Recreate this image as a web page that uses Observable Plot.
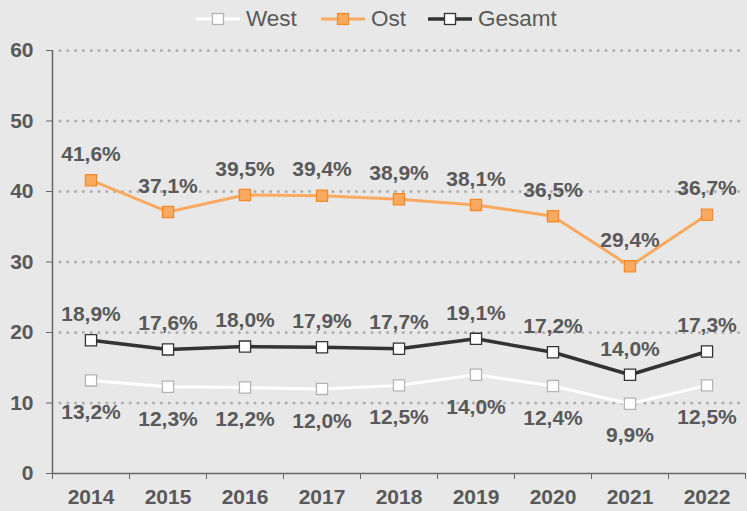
<!DOCTYPE html>
<html><head><meta charset="utf-8">
<script src="https://cdn.jsdelivr.net/npm/d3@7"></script>
<script src="https://cdn.jsdelivr.net/npm/@observablehq/plot@0.6"></script>
<style>
html,body{margin:0;padding:0;background:#e8e8e8;width:747px;height:511px;overflow:hidden;font-family:"Liberation Sans",Arial,sans-serif;}
#legend{position:relative;height:38px;}
.item{position:absolute;top:6px;display:flex;align-items:center;color:#595959;font-size:22.5px;}
.item svg{margin-right:6px;}
</style></head>
<body>
<div id="legend"></div>
<div id="chart"></div>
<script>
const years = [2014, 2015, 2016, 2017, 2018, 2019, 2020, 2021, 2022];
const west = [13.2, 12.3, 12.2, 12.0, 12.5, 14.0, 12.4, 9.9, 12.5];
const ost = [41.6, 37.1, 39.5, 39.4, 38.9, 38.1, 36.5, 29.4, 36.7];
const gesamt = [18.9, 17.6, 18.0, 17.9, 17.7, 19.1, 17.2, 14.0, 17.3];
const yTicks = [0, 10, 20, 30, 40, 50, 60];
const gridTicks = [10, 20, 30, 40, 50, 60];
const seriesNames = ["West", "Ost", "Gesamt"];

const styles = {
  West: {line: "#ffffff", fill: "#ffffff", stroke: "#b4b4b4", width: 3},
  Ost: {line: "#f9aa60", fill: "#f9aa60", stroke: "#f58a2a", width: 3},
  Gesamt: {line: "#333333", fill: "#ffffff", stroke: "#333333", width: 3.5}
};

// legend
const legendLeft = {West: 196, Ost: 321, Gesamt: 428};
const legend = document.getElementById("legend");
for (const name of seriesNames) {
  const s = styles[name];
  const div = document.createElement("div");
  div.className = "item";
  div.style.left = legendLeft[name] + "px";
  div.innerHTML = `<svg width="44" height="16"><line x1="0" x2="44" y1="8" y2="8" stroke="${s.line}" stroke-width="${s.width}"/><rect x="16.5" y="2.5" width="11" height="11" fill="${s.fill}" stroke="${s.stroke}" stroke-width="1.3"/></svg><span>${name}</span>`;
  legend.appendChild(div);
}

const fmt = v => v.toFixed(1).replace(".", ",") + "%";
const table = (name, vals) => years.map((y, i) => ({year: y, value: vals[i], series: name}));
const W = table("West", west), O = table("Ost", ost), G = table("Gesamt", gesamt);

const boundaries = d3.range(years.length + 1).map(i => years[0] - 0.5 + i);

const marks = [];
marks.push(Plot.ruleY(gridTicks, {stroke: "#b0b0b0", strokeWidth: 3.2, strokeDasharray: "0 7.8", strokeLinecap: "round", insetLeft: 8}));
marks.push(Plot.ruleX([boundaries[0]], {stroke: "#666", strokeWidth: 1.5}));
marks.push(Plot.ruleY([0], {stroke: "#666", strokeWidth: 1.5}));
marks.push(Plot.axisY({ticks: yTicks, label: null, tickSize: 6, tickPadding: 13, tickFormat: d => String(d), fontSize: 21, fontWeight: "bold", fill: "#595959", stroke: "#666"}));
marks.push(Plot.axisX({ticks: boundaries, label: null, tickSize: 6, tickFormat: () => "", stroke: "#666"}));
marks.push(Plot.axisX({ticks: years, label: null, tickSize: 0, tickPadding: 16, tickFormat: d => String(d), fontSize: 21, fontWeight: "bold", fill: "#595959"}));
for (const [name, data] of [["West", W], ["Ost", O], ["Gesamt", G]]) {
  const s = styles[name];
  marks.push(Plot.line(data, {x: "year", y: "value", stroke: s.line, strokeWidth: s.width}));
  marks.push(Plot.dot(data, {x: "year", y: "value", symbol: "square", r: 6.3, fill: s.fill, stroke: s.stroke, strokeWidth: 1.3}));
}
const labelStyle = {x: "year", y: "value", text: d => fmt(d.value), fontSize: 21, fontWeight: "bold", fill: "#595959"};
marks.push(Plot.text(O, {...labelStyle, dy: -26}));
marks.push(Plot.text(G, {...labelStyle, dy: -26}));
marks.push(Plot.text(W, {...labelStyle, dy: 32}));

const chart = Plot.plot({
  width: 747,
  height: 473,
  marginTop: 12,
  marginBottom: 38,
  marginLeft: 52,
  marginRight: 2,
  style: {background: "transparent", fontFamily: "'Liberation Sans', Arial, sans-serif", color: "#595959", overflow: "visible"},
  x: {type: "linear", domain: [boundaries[0], boundaries[boundaries.length - 1]], label: null},
  y: {domain: [0, 60], label: null},
  marks
});
document.getElementById("chart").appendChild(chart);
</script>
</body></html>
